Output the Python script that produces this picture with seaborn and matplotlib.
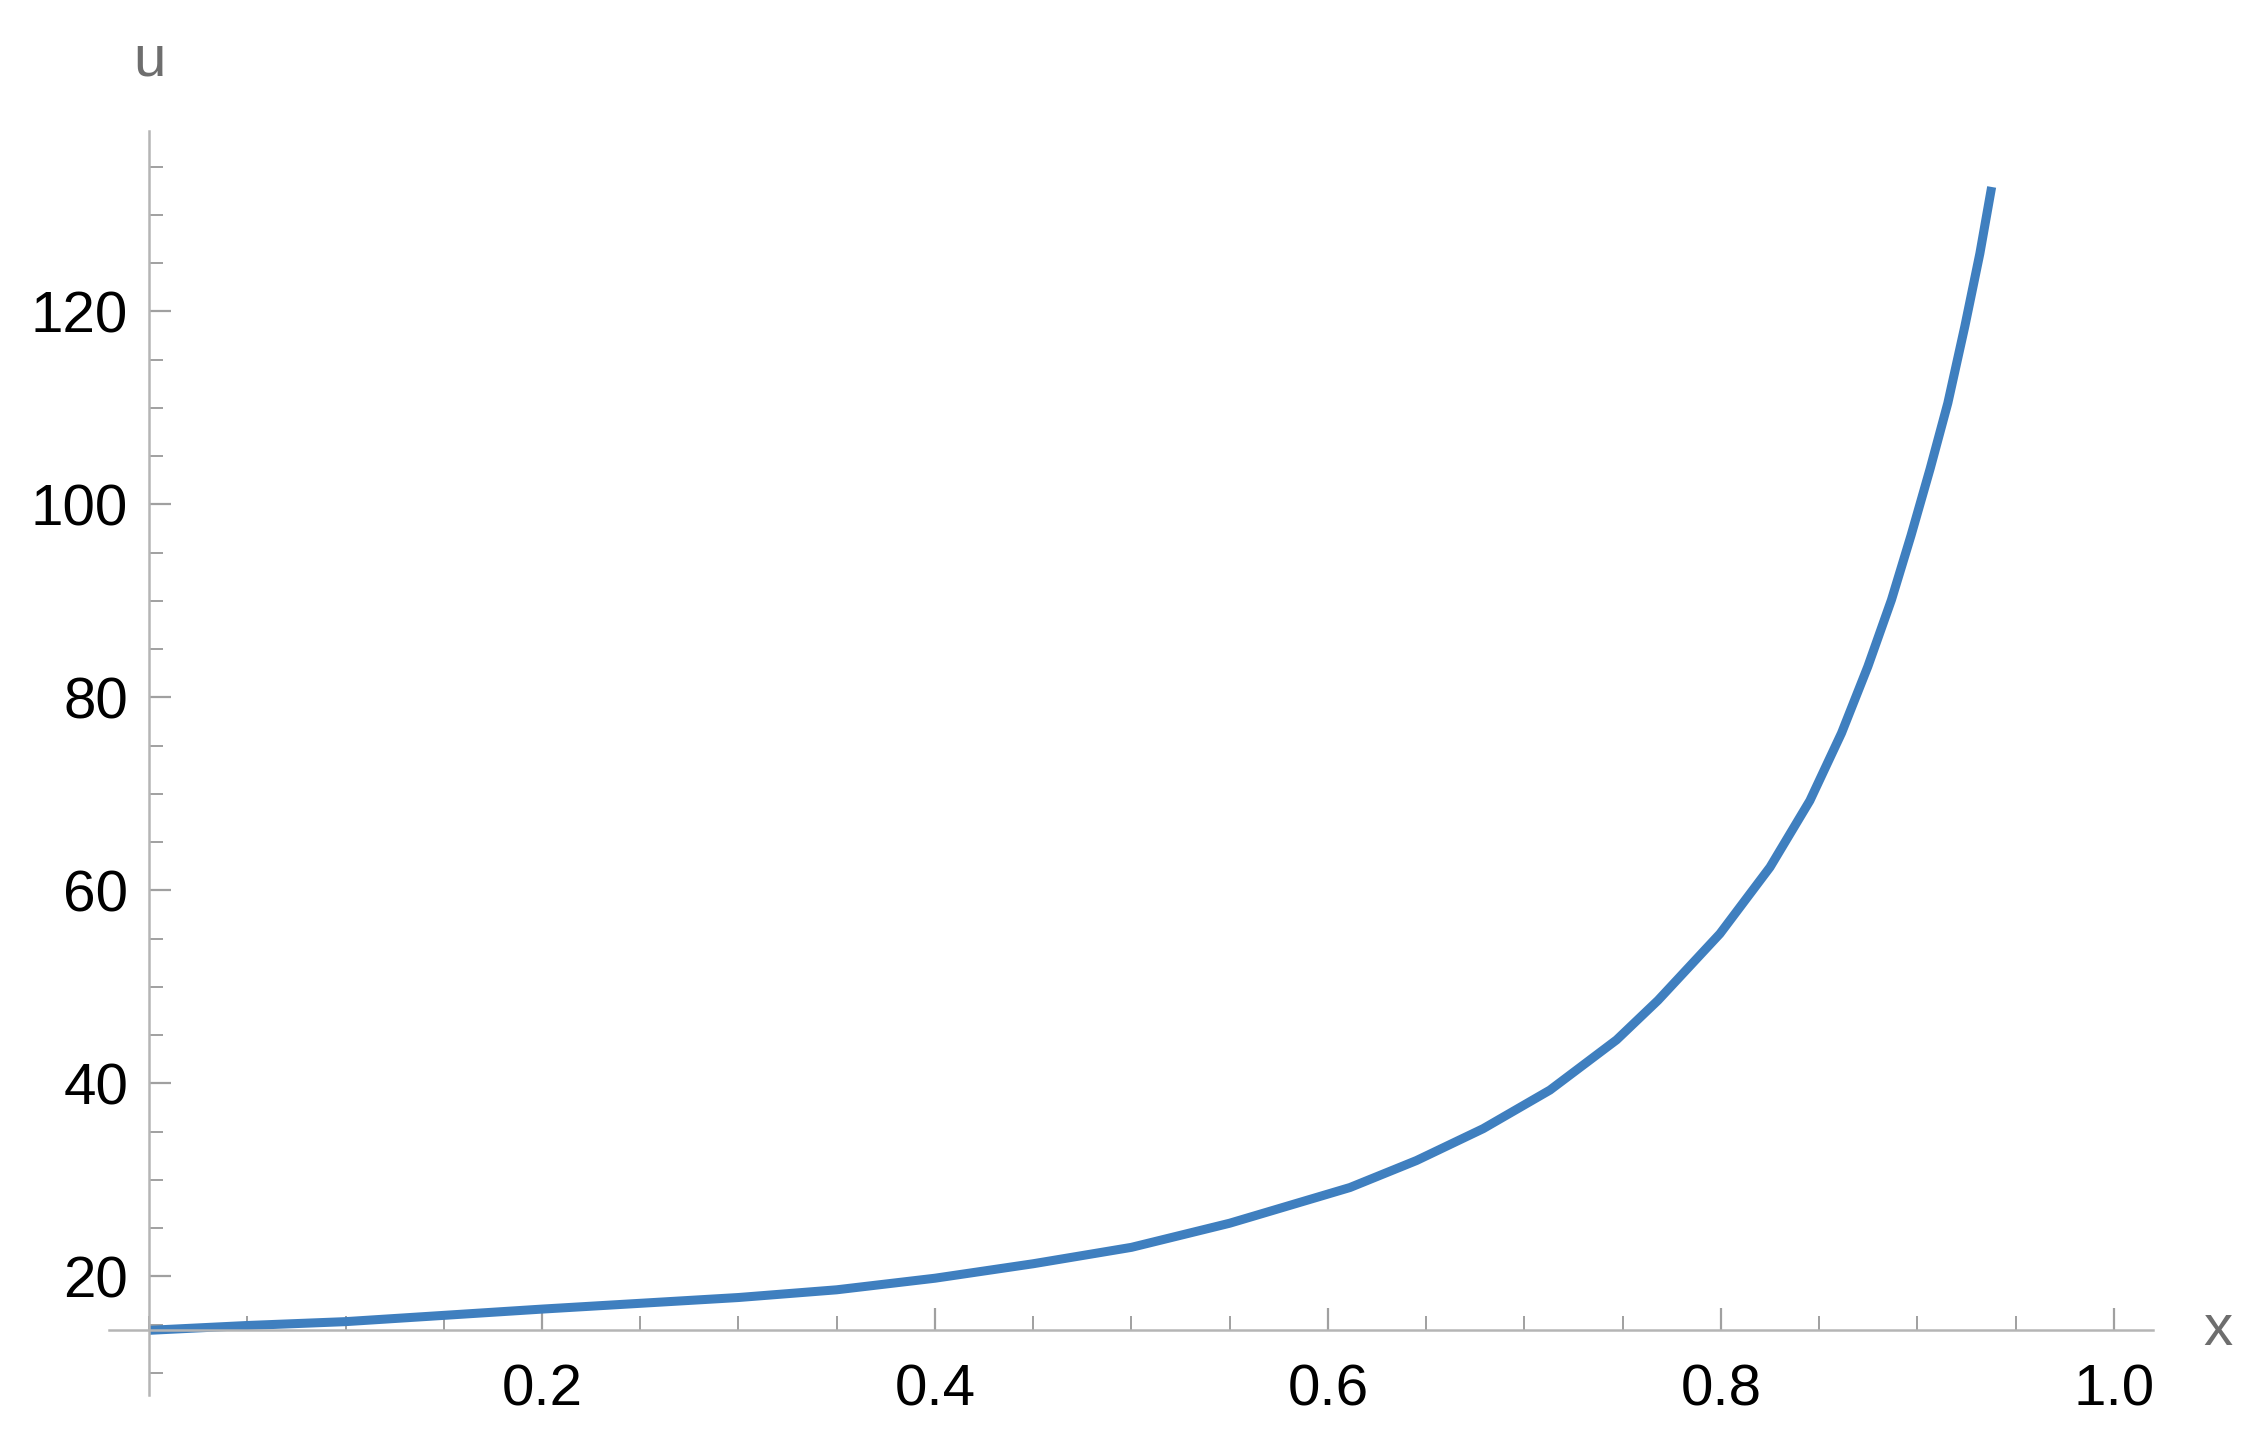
import matplotlib
matplotlib.use("Agg")
import matplotlib.pyplot as plt
from matplotlib.ticker import MultipleLocator, FixedLocator
import seaborn as sns
import pandas as pd

# values
x_vals = [0.0, 0.05, 0.10, 0.15, 0.20, 0.25, 0.30, 0.35, 0.40, 0.45, 0.50,
          0.55, 0.6112, 0.6451, 0.6790, 0.7130, 0.7469, 0.7680, 0.7995,
          0.8250, 0.8453, 0.8614, 0.8748, 0.8868, 0.8968, 0.9065, 0.9155,
          0.9242, 0.9318, 0.9378]
u_vals = [14.4, 14.9, 15.3, 15.95, 16.6, 17.2, 17.8, 18.6, 19.8, 21.3, 23.0,
          25.5, 29.2, 32.0, 35.3, 39.3, 44.5, 48.6, 55.5,
          62.4, 69.3, 76.3, 83.2, 90.1, 96.8, 103.7, 110.5,
          118.5, 126.0, 132.9]
x_ticks = [0.2, 0.4, 0.6, 0.8, 1.0]
x_tick_labels = ["0.2", "0.4", "0.6", "0.8", "1.0"]
u_ticks = [20, 40, 60, 80, 100, 120]

df = pd.DataFrame({"x": x_vals, "u": u_vals})

sns.set_style("white")
plt.rcParams["font.family"] = ["Liberation Sans", "DejaVu Sans"]

fig = plt.figure(figsize=(22.66, 14.54), dpi=100)
ax = fig.add_axes([0.0479, 0.0406, 0.9023, 0.8693])

sns.lineplot(data=df, x="x", y="u", ax=ax, color="#3f7fbf", linewidth=6.5,
             estimator=None, sort=False, solid_capstyle="butt",
             solid_joinstyle="round")

ax.set_xlim(-0.0206, 1.02)
ax.set_ylim(7.7, 138.7)

# Mathematica-style crossing axes
ax.spines["left"].set_position(("data", 0))
ax.spines["bottom"].set_position(("data", 14.4))
ax.spines["top"].set_visible(False)
ax.spines["right"].set_visible(False)
for s in ["left", "bottom"]:
    ax.spines[s].set_color("#b5b5b5")
    ax.spines[s].set_linewidth(1.8)

ax.xaxis.set_major_locator(FixedLocator(x_ticks))
ax.set_xticklabels(x_tick_labels)
ax.xaxis.set_minor_locator(MultipleLocator(0.05))
ax.yaxis.set_major_locator(FixedLocator(u_ticks))
ax.yaxis.set_minor_locator(MultipleLocator(5))

ax.tick_params(axis="both", which="both", bottom=True, left=True,
               top=False, right=False)
ax.tick_params(axis="both", which="major", direction="in", length=16, width=1.6,
               color="#a0a0a0", labelsize=42, labelcolor="black")
ax.tick_params(axis="both", which="minor", direction="in", length=10, width=1.4,
               color="#a0a0a0")
ax.tick_params(axis="x", which="major", pad=24)
ax.tick_params(axis="y", which="major", pad=15)

ax.set_xlabel("")
ax.set_ylabel("")
ax.text(1.053, 14.4, "x", fontsize=42, color="#6e6e6e", ha="center", va="center",
        transform=ax.transData, clip_on=False)
ax.text(0, 146, "u", fontsize=42, color="#6e6e6e", ha="center", va="center",
        transform=ax.transData, clip_on=False)

fig.savefig("out.png", dpi=100, facecolor="white")
